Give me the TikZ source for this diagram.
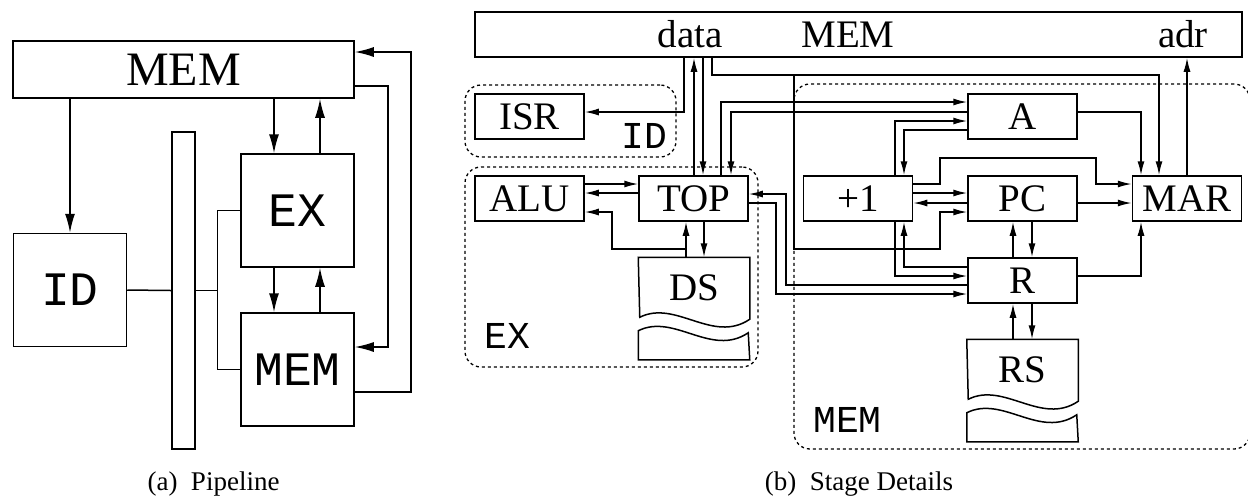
\documentclass[tikz,border=0pt]{standalone}
\usepackage{fontspec}
\setmainfont{Liberation Serif}
\setmonofont{Liberation Mono}
\usetikzlibrary{arrows.meta}

% store symbol with torn lower part
\newcommand{\drawstore}[1]{%
  \draw (#1.north west) -- (#1.north east) -- ++(0,62) .. controls +(-37,25) and +(36,-18) .. ++(-110,-2) -- cycle;
  \draw (#1.south west) -- ++(0,-29) .. controls +(36,-18) and +(-37,25) .. ++(110,2) -- (#1.south east) -- cycle;}

\begin{document}
\begin{tikzpicture}[x=0.5pt,y=-0.5pt,line width=0.75pt,
  box/.style={draw,inner sep=0pt,minimum width=54.5pt,minimum height=22.5pt,font=\fontsize{19.5}{19.5}\selectfont},
  bigbox/.style={draw,inner sep=0pt,minimum width=56.5pt,minimum height=56.5pt,font=\fontsize{24}{24}\selectfont\ttfamily},
  store/.style={inner sep=0pt,minimum width=55pt,minimum height=50.5pt,text height=13pt,text depth=21.3pt,font=\fontsize{19.5}{19.5}\selectfont},
  grp/.style={draw,line width=0.65pt,dash pattern=on 1.5pt off 1.5pt,rounded corners=8pt,inner sep=0pt},
  lbl/.style={font=\fontsize{19.5}{19.5}\selectfont,inner sep=0pt,anchor=base},
  tt/.style={font=\fontsize{19}{19}\selectfont\ttfamily,inner sep=0pt,anchor=base},
  arra/.style={-{Latex[length=9.5pt,width=5pt]}},
  arb/.style={-{Latex[length=7pt,width=3.5pt]}}]
\useasboundingbox (0,0) rectangle (1248,495);

% (a) pipeline
\node[draw,inner sep=0pt,minimum width=170.5pt,minimum height=28.5pt,font=\fontsize{24}{24}\selectfont] (mema) at (183.5,69.5) {MEM};
\node[bigbox] (id) at (70,290) {ID};
\node[draw,minimum width=11.5pt,minimum height=158.5pt] (bar) at (183.5,290.5) {};
\node[bigbox] (ex) at (297.5,210.5) {EX};
\node[bigbox] (mem2) at (297.5,369.5) {MEM};

\draw[arra] (mema.south -| id.north) -- (id.north);
\draw (id.east) -- (bar.west);
\coordinate (fork) at (217.5,290.5);
\draw (bar.east) -- (fork);
\draw (ex.west) -| (fork) |- (mem2.west);
\draw[arra] (mema.south -| 274,0) -- (ex.north -| 274,0);
\draw[arra] (ex.north -| 320,0) -- (mema.south -| 320,0);
\draw[arra] (ex.south -| 274,0) -- (mem2.north -| 274,0);
\draw[arra] (mem2.north -| 320,0) -- (ex.south -| 320,0);
\draw[arra] (mema.east |- 0,86) -| (388,347) -- (mem2.east |- 0,347);
\draw[arra] (mem2.east |- 0,392) -| (411,52) -- (mema.east |- 0,52);

\node[font=\fontsize{13.5}{13.5}\selectfont,inner sep=0pt,anchor=base] (capa) at (213.5,490) {(a)\enspace Pipeline};

% (b) stage details
\node[draw,inner sep=0pt,minimum width=383.5pt,minimum height=22.5pt] (membus) at (858.5,34.5) {};
\node[lbl] (data) at (690,47) {data};
\node[lbl] (memtxt) at (848,47) {MEM};
\node[lbl] (adr) at (1183,47) {adr};

\node[grp,minimum width=105.5pt,minimum height=36pt] (idst) at (570.5,121) {};
\node[grp,minimum width=146.5pt,minimum height=100pt] (exst) at (611.5,267) {};
\node[grp,minimum width=228pt,minimum height=182.5pt] (memst) at (1022,266.5) {};
\node[tt] (idlbl) at (644,148) {ID};
\node[tt] (exlbl) at (507.5,348) {EX};
\node[tt] (memlbl) at (847.5,432) {MEM};

\node[box] (isr) at (529.5,116.5) {ISR};
\node[box] (alu) at (529.5,198.5) {ALU};
\node[box] (tp) at (693.5,198.5) {TOP};
\node[box] (inc) at (858,198.5) {+1};
\node[box] (pc) at (1022.5,198.5) {PC};
\node[box] (mar) at (1187,198.5) {MAR};
\node[box] (a) at (1022.5,116.5) {A};
\node[box] (r) at (1022.5,280.5) {R};
\node[store] (ds) at (694,308.5) {DS};
\node[store] (rs) at (1022.5,390.5) {RS};
\drawstore{ds}
\drawstore{rs}

\draw[arb] (membus.south -| 684,0) |- (isr.east |- 0,112);
\draw[arb] (tp.north -| 694,0) -- (membus.south -| 694,0);
\draw[arb] (membus.south -| 703,0) -- (tp.north -| 703,0);
\coordinate (tap) at (794,75);
\draw[arb] (membus.south -| 712,0) |- (tap) -| (mar.north -| 1159,0);
\draw[arb] (tap) |- (940,249) |- (pc.west |- 0,212);
\draw[arb] (tp.north -| 721,0) |- (a.west |- 0,102);
\draw[arb] (a.west |- 0,112) -| (tp.north -| 731,0);
\draw[arb] (inc.north -| 895,0) |- (a.west |- 0,121);
\draw[arb] (a.west |- 0,130) -| (inc.north -| 904,0);
\draw[arb] (a.east |- 0,112) -| (mar.north -| 1141,0);
\draw[arb] (mar.north) -- (membus.south -| mar.north);
\draw[arb] (inc.east |- 0,184) -| (940,158) -| (1096,184) -- (mar.west |- 0,184);
\draw[arb] (inc.east |- 0,193) -- (pc.west |- 0,193);
\draw[arb] (pc.west |- 0,203) -- (inc.east |- 0,203);
\draw[arb] (pc.east |- 0,203) -- (mar.west |- 0,203);
\draw[arb] (r.north -| 1013,0) -- (pc.south -| 1013,0);
\draw[arb] (pc.south -| 1032,0) -- (r.north -| 1032,0);
\draw[arb] (rs.north -| 1013,0) -- (r.south -| 1013,0);
\draw[arb] (r.south -| 1032,0) -- (rs.north -| 1032,0);
\draw[arb] (r.east |- 0,276) -| (mar.south -| 1141,0);
\draw[arb] (inc.south -| 895,0) |- (r.west |- 0,276);
\draw[arb] (r.west |- 0,267) -| (inc.south -| 904,0);
\draw[arb] (r.west |- 0,285) -| (786,194) -- (tp.east |- 0,194);
\draw[arb] (tp.east |- 0,203) -| (776,294) -- (r.west |- 0,294);
\draw[arb] (alu.east |- 0,184) -- (tp.west |- 0,184);
\draw[arb] (tp.west |- 0,193) -- (alu.east |- 0,193);
\draw[arb] (ds.north -| 686,0) -- (tp.south -| 686,0);
\coordinate (dsfork) at (686,249);
\draw[arb] (dsfork) -| (612,212) -- (alu.east |- 0,212);
\draw[arb] (tp.south -| 704,0) -- (ds.north -| 704,0);

\node[font=\fontsize{13.5}{13.5}\selectfont,inner sep=0pt,anchor=base] (capb) at (859,490) {(b)\enspace Stage Details};
\end{tikzpicture}
\end{document}
